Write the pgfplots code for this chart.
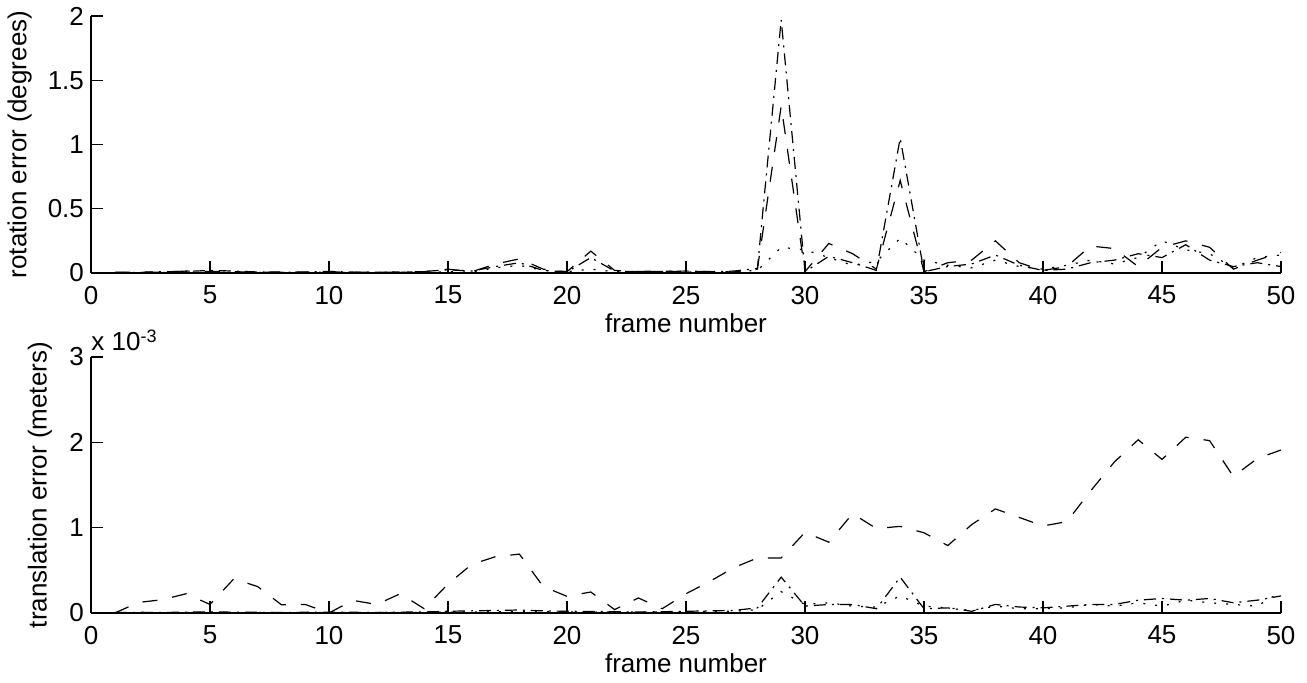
\documentclass[border=0pt]{standalone}
\usepackage{fontspec}
\setmainfont{Liberation Sans}
\usepackage{pgfplots}
\usepackage{pgfplotstable}
\pgfplotsset{compat=1.18}

% rotation error (degrees) per frame for the three estimators
\pgfplotstableread{
f a b c
1 0.005 0.003 0.002
2 0.008 0.004 0.003
3 0.006 0.010 0.004
4 0.015 0.012 0.005
5 0.012 0.020 0.004
6 0.010 0.015 0.006
7 0.006 0.008 0.004
8 0.008 0.006 0.003
9 0.005 0.008 0.004
10 0.010 0.012 0.006
11 0.006 0.007 0.004
12 0.005 0.006 0.003
13 0.008 0.005 0.004
14 0.010 0.012 0.006
15 0.030 0.025 0.010
16 0.010 0.015 0.008
17 0.070 0.050 0.040
18 0.110 0.080 0.060
19 0.030 0.020 0.020
20 0.010 0.008 0.010
21 0.170 0.120 0.030
22 0.020 0.015 0.010
23 0.012 0.010 0.008
24 0.015 0.012 0.006
25 0.010 0.015 0.008
26 0.012 0.010 0.006
27 0.008 0.015 0.010
28 0.030 0.035 0.020
29 1.300 1.970 0.200
30 0.010 0.010 0.180
31 0.230 0.130 0.120
32 0.150 0.080 0.060
33 0.030 0.020 0.090
34 0.720 1.050 0.270
35 0.010 0.010 0.100
36 0.080 0.050 0.060
37 0.100 0.070 0.040
38 0.250 0.140 0.100
39 0.080 0.060 0.050
40 0.020 0.020 0.030
41 0.050 0.030 0.060
42 0.210 0.080 0.100
43 0.190 0.100 0.070
44 0.050 0.150 0.120
45 0.200 0.120 0.250
46 0.250 0.220 0.180
47 0.200 0.100 0.150
48 0.030 0.050 0.040
49 0.100 0.080 0.120
50 0.160 0.050 0.140
}\rottable

% translation error per frame, in units of 1e-3 m
\pgfplotstableread{
f a b c
1 0.000 0.005 0.002
2 0.124 0.008 0.004
3 0.156 0.006 0.003
4 0.226 0.010 0.005
5 0.100 0.012 0.006
6 0.400 0.010 0.004
7 0.310 0.008 0.006
8 0.097 0.006 0.004
9 0.100 0.008 0.005
10 0.000 0.010 0.006
11 0.148 0.008 0.004
12 0.100 0.006 0.005
13 0.226 0.010 0.006
14 0.050 0.012 0.008
15 0.340 0.020 0.010
16 0.570 0.025 0.012
17 0.660 0.030 0.015
18 0.690 0.035 0.020
19 0.310 0.025 0.015
20 0.195 0.020 0.012
21 0.246 0.018 0.010
22 0.040 0.015 0.012
23 0.176 0.012 0.010
24 0.050 0.015 0.012
25 0.226 0.020 0.015
26 0.370 0.025 0.018
27 0.530 0.030 0.020
28 0.645 0.060 0.040
29 0.645 0.420 0.250
30 0.945 0.080 0.100
31 0.830 0.100 0.120
32 1.164 0.100 0.080
33 0.990 0.050 0.070
34 1.015 0.420 0.200
35 0.940 0.050 0.080
36 0.790 0.060 0.060
37 1.035 0.020 0.030
38 1.220 0.100 0.080
39 1.120 0.070 0.050
40 1.020 0.060 0.050
41 1.070 0.080 0.060
42 1.430 0.100 0.100
43 1.770 0.100 0.080
44 2.030 0.150 0.120
45 1.800 0.170 0.080
46 2.060 0.150 0.150
47 2.020 0.170 0.120
48 1.600 0.120 0.100
49 1.810 0.150 0.080
50 1.910 0.200 0.250
}\transtable

\pgfplotsset{
  errplot/.style={
    scale only axis,
    width=595pt,
    xmin=0, xmax=50,
    xtick={0,5,...,50},
    axis x line=bottom,
    axis y line=left,
    axis line style={-, line width=0.6pt},
    tick align=inside,
    major tick length=6pt,
    tick style={line width=0.6pt, black},
    /pgf/number format/assume math mode=true,
    font=\fontsize{13}{15}\selectfont,
    ticklabel style={font=\fontsize{13}{15}\selectfont},
    xticklabel style={yshift=-3pt},
    clip=false,
    xlabel={frame number},
  },
  sdash/.style={black, line width=0.6pt, dash pattern=on 7.5pt off 7.5pt},
  sdashdot/.style={black, line width=0.6pt, dash pattern=on 6pt off 3pt on 1pt off 3pt},
  sdot/.style={black, line width=0.6pt, dash pattern=on 1pt off 5pt},
}

\begin{document}
\begin{tikzpicture}
\useasboundingbox (-45.5pt,-205pt) rectangle (608pt,136.5pt);

\begin{axis}[errplot,
  at={(0pt,0pt)}, anchor=origin,
  height=128.5pt,
  ymin=0, ymax=2,
  ytick={0,0.5,1,1.5,2},
  yticklabels={0,0.5,1,1.5,2},
  ylabel={rotation error (degrees)},
  ylabel style={at={(axis description cs:-0.06,0.5)}, anchor=center},
  xlabel style={at={(axis description cs:0.5,-0.195)}, anchor=center},
]
\addplot[sdash] table[x=f, y=a] {\rottable};
\addplot[sdashdot] table[x=f, y=b] {\rottable};
\addplot[sdot] table[x=f, y=c] {\rottable};
\end{axis}

\begin{axis}[errplot,
  at={(0pt,-170pt)}, anchor=origin,
  height=128pt,
  ymin=0, ymax=3,
  ytick={0,1,2,3},
  ylabel={translation error (meters)},
  ylabel style={at={(axis description cs:-0.043,0.5)}, anchor=center},
  xlabel style={at={(axis description cs:0.5,-0.195)}, anchor=center},
]
\addplot[sdash] table[x=f, y=a] {\transtable};
\addplot[sdashdot] table[x=f, y=b] {\transtable};
\addplot[sdot] table[x=f, y=c] {\transtable};
\node[anchor=south west, inner sep=0pt, font=\fontsize{13}{15}\selectfont]
  at (rel axis cs:0,1) [yshift=3pt] {x 10\raisebox{0.6ex}{\fontsize{9}{10}\selectfont -3}};
\end{axis}
\end{tikzpicture}
\end{document}
